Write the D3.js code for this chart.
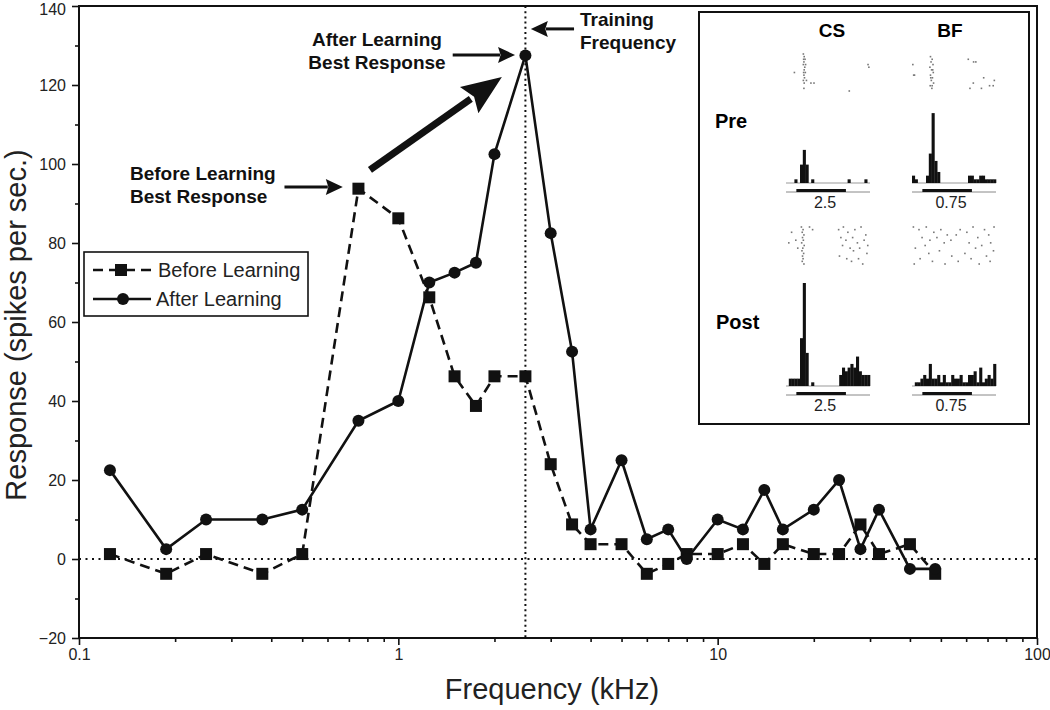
<!DOCTYPE html>
<html><head><meta charset="utf-8">
<script src="https://cdn.jsdelivr.net/npm/d3@7"></script>
<style>
body{margin:0;background:#fff}
svg{display:block}
text{font-family:"Liberation Sans",Arial,Helvetica,sans-serif}
</style>
</head><body>
<svg id="chart" width="1050" height="710"></svg>
<script>
// ---------------- DATA ----------------
const frequencies = [0.125, 0.1875, 0.25, 0.375, 0.5, 0.75, 1, 1.25, 1.5, 1.75, 2, 2.5, 3, 3.5, 4, 5, 6, 7, 8, 10, 12, 14, 16, 20, 24, 28, 32, 40, 48];
const beforeLearning = [1.25, -3.75, 1.25, -3.75, 1.25, 93.75, 86.25, 66.25, 46.25, 38.75, 46.25, 46.25, 24, 8.75, 3.75, 3.75, -3.75, -1.25, 1.25, 1.25, 3.75, -1.25, 3.75, 1.25, 1.25, 8.75, 1.25, 3.75, -3.75];
const afterLearning = [22.5, 2.5, 10, 10, 12.5, 35, 40, 70, 72.5, 75, 102.5, 127.5, 82.5, 52.5, 7.5, 25, 5, 7.5, 0, 10, 7.5, 17.5, 7.5, 12.5, 20, 2.5, 12.5, -2.5, -2.5];
const seriesNames = ["Before Learning", "After Learning"];
const trainingFrequency = 2.5;

const xMajorTicks = [0.1, 1, 10, 100];
const xTickLabels = ["0.1", "1", "10", "100"];
const yMajorTicks = [-20, 0, 20, 40, 60, 80, 100, 120, 140];
const yMinorTicks = [-10, 10, 30, 50, 70, 90, 110, 130];
const xAxisTitle = "Frequency (kHz)";
const yAxisTitle = "Response (spikes per sec.)";

// annotation arrows in data coordinates [freq, response]
const arrowTraining = [[3.55, 134.2], [2.6, 134.2]];
const arrowAfterBest = [[1.48, 127.6], [2.32, 127.6]];
const arrowBeforeBest = [[0.44, 94.2], [0.67, 94.2]];
const arrowShift = [[0.815, 98.5], [2.11, 122]];

// inset: PSTH bin counts (30 bins) and raster spikes [bin time, trial]
const insetColumns = ["CS", "BF"];
const insetRows = ["Pre", "Post"];
const insetFreqLabels = ["2.5", "0.75"];
const stimulusBins = [3.7, 21.4];
const histPreCS  = [0,0,0,1,0,5,9,5,0,1,0,0,0,0,0,0,0,0,0,0,0,0,1,0,0,0,0,0,1,0];
const histPreBF  = [2,1,0,0,0,2,8,19,6,3,0,0,0,0,0,0,0,0,0,0,2,2,1,1,2,2,1,1,1,1];
const histPostCS = [0,2,2,2,2,13,28,9,0,1,0,0,0,0,0,0,0,0,0,3,5,4,5,6,5,8,4,3,3,3];
const histPostBF = [0,1,1,2,3,2,6,2,2,3,1,3,1,1,3,2,2,3,1,1,3,3,4,1,5,1,2,3,2,6];
const rasterPreCS = [[6.2,0],[6.5,1],[6.3,2],[6.8,2],[6.4,3],[6.2,4],[7.0,4],[6.7,5],[6.5,6],[6.3,7],[6.9,7],[6.4,8],[6.6,9],[6.2,10],[7.3,10],[6.5,11],[6.4,13],[3.0,7],[8.9,11],[10.0,11],[29.3,4],[29.6,5],[22.6,14]];
const rasterPreBF = [[0.3,4],[0.6,8],[0.9,8],[6.6,1],[7.2,2],[6.8,3],[7.5,4],[6.4,5],[7.0,6],[7.6,7],[6.6,8],[7.3,9],[6.9,10],[7.7,11],[6.5,12],[7.1,13],[7.4,6],[6.7,9],[7.2,12],[20.1,2],[22.0,3],[22.8,3],[25.6,9],[27.7,12],[29.4,10],[24.8,13],[20.7,13],[21.9,11],[29.0,12]];
const rasterPostCS = [[5.5,0],[6.1,1],[5.8,2],[6.4,3],[5.9,4],[6.2,5],[5.6,6],[6.5,7],[6.0,8],[5.7,9],[6.3,10],[5.9,11],[6.1,12],[5.8,13],[6.4,14],[2.0,2],[3.5,5],[4.2,8],[8.4,0],[9.5,1],[1.0,6],[18.8,1],[20.5,0],[22.1,2],[24.6,1],[26.8,0],[28.5,3],[19.6,4],[21.4,5],[23.8,4],[25.5,6],[27.9,5],[20.2,7],[22.9,8],[24.1,9],[26.3,8],[28.9,10],[19.1,11],[21.7,12],[23.4,13],[25.9,12],[27.4,14],[29.2,7]];
const rasterPostBF = [[0.5,0],[2.5,1],[5.1,0],[7.8,2],[10.3,1],[12.6,3],[3.6,4],[6.4,5],[8.9,4],[1.2,8],[4.7,7],[11.5,6],[13.9,5],[15.8,3],[17.2,1],[19.6,2],[21.8,0],[23.5,4],[25.9,1],[27.4,3],[29.3,0],[20.4,6],[22.7,8],[24.9,7],[28.1,6],[6.0,10],[9.8,9],[14.2,11],[16.5,13],[18.9,10],[21.1,12],[26.6,11],[29.1,9],[2.9,12],[0.8,14],[7.3,13],[11.8,14],[24.0,14],[27.9,13]];

// ---------------- CHART ----------------
const svg = d3.select("#chart");
const x = d3.scaleLog().domain([0.1, 100]).range([79, 1037]);
const y = d3.scaleLinear().domain([-20, 140]).range([638, 6]);
const ink = "#111";

// reference lines
svg.append("line").attr("x1", x(0.1)).attr("x2", x(100)).attr("y1", y(0)).attr("y2", y(0))
  .attr("stroke", ink).attr("stroke-width", 2).attr("stroke-dasharray", "2,4.5");
svg.append("line").attr("x1", x(trainingFrequency)).attr("x2", x(trainingFrequency)).attr("y1", y(140)).attr("y2", y(-20))
  .attr("stroke", ink).attr("stroke-width", 2).attr("stroke-dasharray", "2,3.2");

// axes
const xMinor = x.ticks().filter(v => !xMajorTicks.some(m => Math.abs(m - v) < 1e-9));
const gx = svg.append("g").attr("transform", `translate(0,${y(-20)})`);
gx.append("g").call(d3.axisBottom(x).tickValues(xMinor).tickSize(4).tickFormat(""));
gx.append("g").call(d3.axisBottom(x).tickValues(xMajorTicks).tickSize(7).tickPadding(4)
  .tickFormat((d, i) => xTickLabels[i]));
const gy = svg.append("g").attr("transform", `translate(${x(0.1)},0)`);
gy.append("g").call(d3.axisLeft(y).tickValues(yMinorTicks).tickSize(4).tickFormat(""));
const gyMajor = gy.append("g").call(d3.axisLeft(y).tickValues(yMajorTicks).tickSize(7).tickPadding(6)
  .tickFormat(d => d < 0 ? "\u2212" + Math.abs(d) : d));
svg.selectAll(".domain").remove();
svg.selectAll(".tick line").attr("stroke", ink).attr("stroke-width", 1.6);
svg.selectAll(".tick text").attr("font-size", 16).attr("fill", "#222")
  .attr("font-family", "'Liberation Sans', Arial, sans-serif");
// keep the top label inside the picture
gyMajor.selectAll(".tick text").filter(d => d === 140).attr("dy", "0.55em");

// frame
svg.append("rect").attr("x", x(0.1)).attr("y", y(140)).attr("width", x(100) - x(0.1)).attr("height", y(-20) - y(140))
  .attr("fill", "none").attr("stroke", ink).attr("stroke-width", 2);

// axis titles
svg.append("text").attr("x", (x(0.1) + x(100)) / 2 - 6).attr("y", 699).attr("text-anchor", "middle")
  .attr("font-size", 29).attr("fill", "#222").text(xAxisTitle);
svg.append("text").attr("transform", `translate(26,${(y(140) + y(-20)) / 2 + 3}) rotate(-90)`).attr("text-anchor", "middle")
  .attr("font-size", 29).attr("fill", "#222").text(yAxisTitle);

// series
const beforeData = frequencies.map((f, i) => [f, beforeLearning[i]]);
const afterData = frequencies.map((f, i) => [f, afterLearning[i]]);
const line = d3.line().x(d => x(d[0])).y(d => y(d[1]));
svg.append("path").datum(beforeData).attr("d", line).attr("fill", "none").attr("stroke", ink)
  .attr("stroke-width", 2.6).attr("stroke-dasharray", "10,6");
svg.append("path").datum(afterData).attr("d", line).attr("fill", "none").attr("stroke", ink)
  .attr("stroke-width", 2.6);
const sq = 12;
svg.append("g").selectAll("rect").data(beforeData).join("rect")
  .attr("x", d => x(d[0]) - sq / 2).attr("y", d => y(d[1]) - sq / 2).attr("width", sq).attr("height", sq).attr("fill", ink);
svg.append("g").selectAll("circle").data(afterData).join("circle")
  .attr("cx", d => x(d[0])).attr("cy", d => y(d[1])).attr("r", 6).attr("fill", ink);

// legend
const lg = svg.append("g");
lg.append("rect").attr("x", 84).attr("y", 252).attr("width", 224).attr("height", 64)
  .attr("fill", "#fff").attr("stroke", ink).attr("stroke-width", 1.6);
lg.append("line").attr("x1", 93).attr("x2", 151).attr("y1", 270).attr("y2", 270).attr("stroke", ink)
  .attr("stroke-width", 2.6).attr("stroke-dasharray", "10,6");
lg.append("rect").attr("x", 121 - sq / 2).attr("y", 270 - sq / 2).attr("width", sq).attr("height", sq).attr("fill", ink);
lg.append("line").attr("x1", 93).attr("x2", 151).attr("y1", 299).attr("y2", 299).attr("stroke", ink).attr("stroke-width", 2.6);
lg.append("circle").attr("cx", 123).attr("cy", 299).attr("r", 6).attr("fill", ink);
lg.append("text").attr("x", 158).attr("y", 277).attr("font-size", 20).attr("fill", "#222").text(seriesNames[0]);
lg.append("text").attr("x", 156).attr("y", 306).attr("font-size", 20).attr("fill", "#222").text(seriesNames[1]);

// arrows
function arrow(pts, shaft, headLen, headHalf) {
  const [x0, y0] = [x(pts[0][0]), y(pts[0][1])];
  const [x1, y1] = [x(pts[1][0]), y(pts[1][1])];
  const dx = x1 - x0, dy = y1 - y0, L = Math.hypot(dx, dy);
  const ux = dx / L, uy = dy / L, px = -uy, py = ux;
  const bx = x1 - ux * headLen, by = y1 - uy * headLen;
  svg.append("line").attr("x1", x0).attr("y1", y0).attr("x2", bx + ux * 2).attr("y2", by + uy * 2)
    .attr("stroke", ink).attr("stroke-width", shaft);
  svg.append("path").attr("d", `M${x1},${y1}L${bx + px * headHalf},${by + py * headHalf}L${bx + ux * headLen * 0.15},${by + uy * headLen * 0.15}L${bx - px * headHalf},${by - py * headHalf}Z`)
    .attr("fill", ink);
}
arrow(arrowTraining, 3, 17, 8);
arrow(arrowAfterBest, 3, 17, 8);
arrow(arrowBeforeBest, 3, 17, 8);
arrow(arrowShift, 7, 40, 16);

// annotation text
function boldText(xp, yp, str, anchor) {
  svg.append("text").attr("x", xp).attr("y", yp).attr("text-anchor", anchor || "start")
    .attr("font-size", 19).attr("font-weight", "bold").attr("fill", ink).text(str);
}
boldText(580, 26, "Training");
boldText(580, 49, "Frequency");
boldText(377, 46, "After Learning", "middle");
boldText(377, 69, "Best Response", "middle");
boldText(130, 180, "Before Learning");
boldText(130, 203, "Best Response");

// ---------------- INSET ----------------
const inset = svg.append("g");
inset.append("rect").attr("x", 699).attr("y", 12).attr("width", 330).attr("height", 412)
  .attr("fill", "#fff").attr("stroke", ink).attr("stroke-width", 2);
inset.append("text").attr("x", 832).attr("y", 37).attr("text-anchor", "middle").attr("font-size", 19).attr("font-weight", "bold").text(insetColumns[0]);
inset.append("text").attr("x", 950).attr("y", 37).attr("text-anchor", "middle").attr("font-size", 19).attr("font-weight", "bold").text(insetColumns[1]);
inset.append("text").attr("x", 715).attr("y", 128).attr("font-size", 20).attr("font-weight", "bold").text(insetRows[0]);
inset.append("text").attr("x", 716).attr("y", 329).attr("font-size", 20).attr("font-weight", "bold").text(insetRows[1]);

const panels = [
  {x0: 786, raster: rasterPreCS, hist: histPreCS, rTop: 54, base: 183, label: insetFreqLabels[0]},
  {x0: 912, raster: rasterPreBF, hist: histPreBF, rTop: 54, base: 183, label: insetFreqLabels[1]},
  {x0: 786, raster: rasterPostCS, hist: histPostCS, rTop: 227, base: 386, label: insetFreqLabels[0]},
  {x0: 912, raster: rasterPostBF, hist: histPostBF, rTop: 227, base: 386, label: insetFreqLabels[1]}
];
panels.forEach(p => {
  const hx = d3.scaleLinear().domain([0, 30]).range([p.x0, p.x0 + 84]);
  const hy = d3.scaleLinear().domain([0, 28]).range([p.base, p.base - 103]);
  const ry = d3.scaleLinear().domain([0, 14]).range([p.rTop, p.rTop + 37]);
  const g = inset.append("g");
  g.selectAll("rect.dot").data(p.raster).join("rect").attr("class", "dot")
    .attr("x", d => hx(d[0]) - 0.8).attr("y", d => ry(d[1]) - 0.8).attr("width", 1.6).attr("height", 1.6).attr("fill", "#777");
  g.append("line").attr("x1", hx(0)).attr("x2", hx(30)).attr("y1", p.base).attr("y2", p.base).attr("stroke", "#999").attr("stroke-width", 1);
  g.selectAll("rect.bar").data(p.hist.map((c, i) => [i, c]).filter(d => d[1] > 0)).join("rect").attr("class", "bar")
    .attr("x", d => hx(d[0])).attr("width", hx(1) - hx(0) + 0.3)
    .attr("y", d => hy(d[1])).attr("height", d => p.base - hy(d[1])).attr("fill", ink);
  g.append("line").attr("x1", hx(0)).attr("x2", hx(30)).attr("y1", p.base + 9).attr("y2", p.base + 9).attr("stroke", "#888").attr("stroke-width", 1);
  g.append("line").attr("x1", hx(stimulusBins[0])).attr("x2", hx(stimulusBins[1])).attr("y1", p.base + 7.5).attr("y2", p.base + 7.5).attr("stroke", ink).attr("stroke-width", 3);
  g.append("text").attr("x", hx(15) - 3).attr("y", p.base + 25).attr("text-anchor", "middle").attr("font-size", 16).attr("fill", "#222").text(p.label);
});
</script>
</body></html>
